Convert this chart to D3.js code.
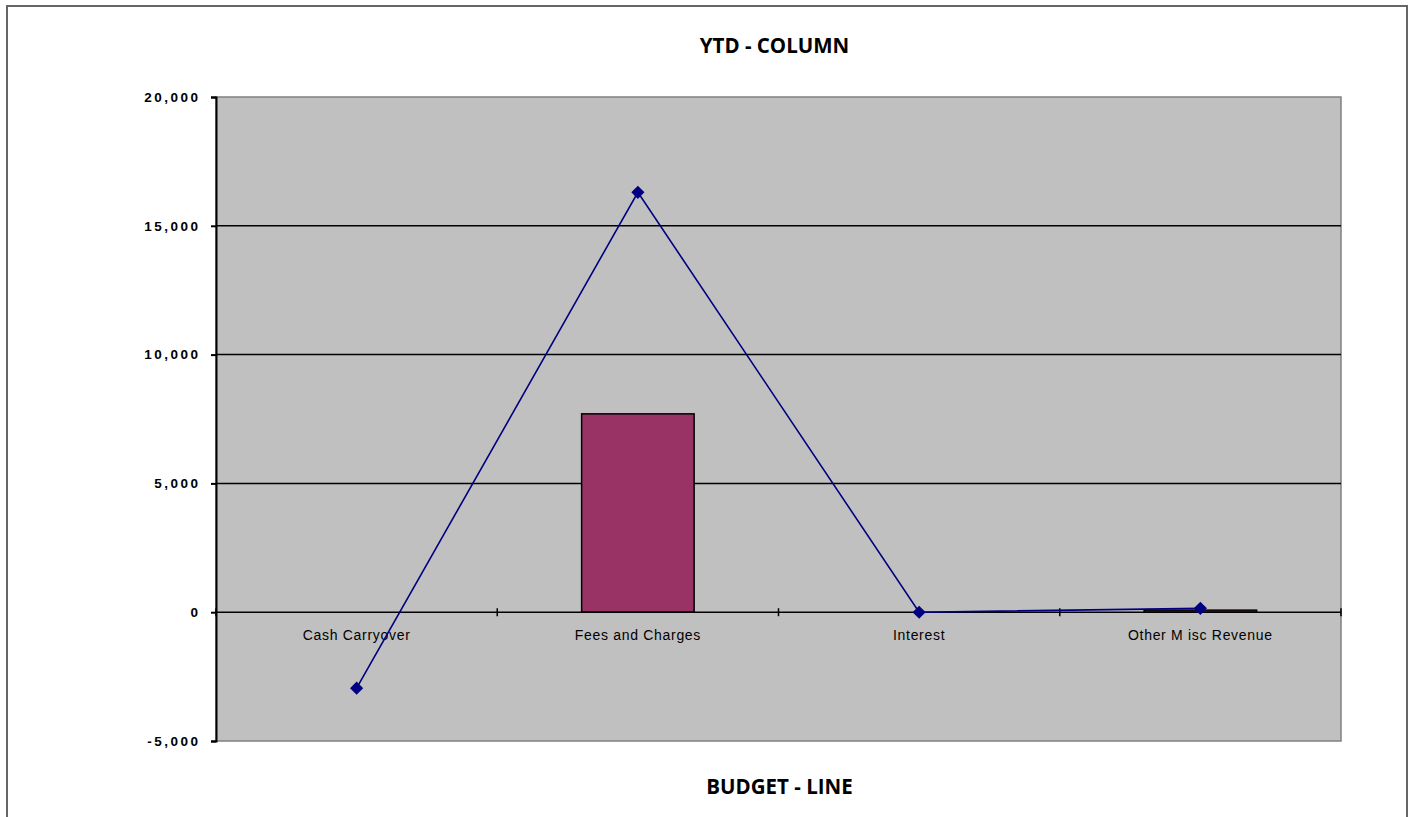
<!DOCTYPE html>
<html><head><meta charset="utf-8">
<script src="https://cdn.jsdelivr.net/npm/d3@7"></script>
<style>body{margin:0;background:#fff}svg{display:block}</style>
</head><body>
<script>
const categories = ["Cash Carryover", "Fees and Charges", "Interest", "Other M isc Revenue"];
const ytdValues = [0, 7700, 0, 80];
const budgetValues = [-2950, 16300, 0, 150];
const yTicks = [-5000, 0, 5000, 10000, 15000, 20000];
const titleTop = "YTD - COLUMN";
const titleBottom = "BUDGET - LINE";

const W = 1411, H = 817;
const svg = d3.select("body").append("svg").attr("width", W).attr("height", H);
svg.append("rect").attr("x", 7).attr("y", 6).attr("width", 1400).attr("height", 830)
  .attr("fill", "#fff").attr("stroke", "#666").attr("stroke-width", 2);

const L = 216, R = 1341, T = 97, B = 741;
const x = d3.scaleBand().domain(categories).range([L, R]).paddingInner(0).paddingOuter(0);
const y = d3.scaleLinear().domain([-5000, 20000]).range([B, T]);

svg.append("rect").attr("x", L).attr("y", T).attr("width", R - L).attr("height", B - T)
  .attr("fill", "#c0c0c0").attr("stroke", "#808080").attr("stroke-width", 1.5);

// gridlines
svg.append("g").selectAll("line").data(yTicks.filter(d => d > 0 && d < 20000)).join("line")
  .attr("x1", L).attr("x2", R).attr("y1", d => y(d)).attr("y2", d => y(d))
  .attr("stroke", "#000").attr("stroke-width", 1.5);

// bars
const bw = x.bandwidth() * 0.4;
svg.append("g").selectAll("rect").data(categories.map((c, i) => ({c, v: ytdValues[i]})).filter(d => d.v !== 0)).join("rect")
  .attr("x", d => x(d.c) + (x.bandwidth() - bw) / 2)
  .attr("width", bw)
  .attr("y", d => y(Math.max(0, d.v)))
  .attr("height", d => Math.abs(y(d.v) - y(0)))
  .attr("fill", "#993366").attr("stroke", "#000").attr("stroke-width", 1.5);

// y axis
const fmt = d3.format(",");
const yAxis = d3.axisLeft(y).tickValues(yTicks).tickSize(5).tickFormat(d => fmt(d).replace("\u2212", "-"));
const gy = svg.append("g").attr("transform", `translate(${L},0)`).call(yAxis);
gy.select(".domain").attr("stroke", "#000").attr("stroke-width", 2);
gy.selectAll(".tick line").attr("stroke", "#000").attr("stroke-width", 2);
gy.selectAll(".tick text").attr("x", -15.5).attr("font-family", "Liberation Sans, Arial, sans-serif")
  .attr("font-size", 13.5).attr("font-weight", "bold").attr("letter-spacing", "2.5px").attr("fill", "#000");

// x axis at zero
const gx = svg.append("g").attr("transform", `translate(0,${y(0)})`);
gx.append("line").attr("x1", L).attr("x2", R).attr("stroke", "#000").attr("stroke-width", 1.5);
const bounds = categories.map(c => x(c)).concat([R]);
gx.selectAll("line.tk").data(bounds).join("line").attr("class", "tk")
  .attr("x1", d => d).attr("x2", d => d).attr("y1", -4).attr("y2", 4)
  .attr("stroke", "#000").attr("stroke-width", 1.5);
gx.selectAll("text").data(categories).join("text")
  .attr("x", d => x(d) + x.bandwidth() / 2).attr("y", 28)
  .attr("text-anchor", "middle").attr("font-family", "Liberation Sans, Arial, sans-serif")
  .attr("font-size", 14).attr("letter-spacing", "0.7px").attr("fill", "#000").text(d => d);

// line
const pts = categories.map((c, i) => [x(c) + x.bandwidth() / 2, y(budgetValues[i])]);
svg.append("path").attr("d", d3.line()(pts)).attr("fill", "none").attr("stroke", "#000080").attr("stroke-width", 1.6);
svg.append("g").selectAll("path").data(pts).join("path")
  .attr("d", d3.symbol(d3.symbolDiamond2, 110))
  .attr("transform", d => `translate(${d[0]},${d[1]})`)
  .attr("fill", "#000080");

// titles
const cx = (L + R) / 2;
svg.append("text").attr("x", cx - 4).attr("y", 53).attr("text-anchor", "middle")
  .attr("font-family", "Open Sans, Liberation Sans, sans-serif").attr("font-weight", "bold").attr("font-size", 20.5)
  .text(titleTop);
svg.append("text").attr("x", cx + 1).attr("y", 794).attr("text-anchor", "middle")
  .attr("font-family", "Open Sans, Liberation Sans, sans-serif").attr("font-weight", "bold").attr("font-size", 20.5)
  .text(titleBottom);
</script>
</body></html>
